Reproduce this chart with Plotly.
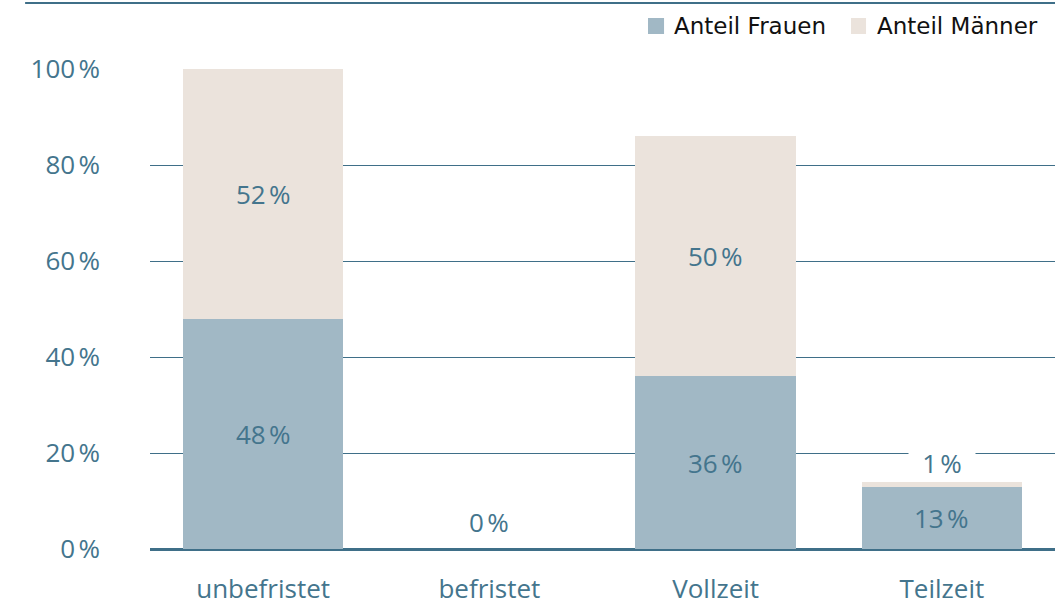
import plotly.graph_objects as go

categories = ["unbefristet", "befristet", "Vollzeit", "Teilzeit"]
frauen = [48, 0, 36, 13]
maenner = [52, 0, 50, 1]
series_names = ["Anteil Frauen", "Anteil Männer"]
y_ticks = [0, 20, 40, 60, 80, 100]
y_ticklabels = ["0\u202f%", "20\u202f%", "40\u202f%", "60\u202f%", "80\u202f%", "100\u202f%"]

col_f = "#a1b8c5"
col_m = "#ebe3dc"
txt = "#44758d"
line_col = "#3f6f88"
FONT = "Open Sans, sans-serif"
LFONT = "DejaVu Sans, sans-serif"

fig = go.Figure()
fig.add_trace(go.Bar(x=categories, y=frauen, name=series_names[0], marker_color=col_f,
                     marker_line_width=0, width=0.71))
fig.add_trace(go.Bar(x=categories, y=maenner, name=series_names[1], marker_color=col_m,
                     marker_line_width=0, width=0.71))

lab_font = dict(size=26, color=txt, family=FONT)
annotations = []
for c, f, m in zip(categories, frauen, maenner):
    if f + m == 0:
        annotations.append(dict(x=c, y=0, text="0\u202f%", showarrow=False, yshift=27,
                                font=lab_font))
        continue
    if f >= 5:
        annotations.append(dict(x=c, y=f / 2, text=f"{f}\u202f%", showarrow=False, font=lab_font))
    if m >= 5:
        annotations.append(dict(x=c, y=f + m / 2, text=f"{m}\u202f%", showarrow=False, font=lab_font))
    else:
        annotations.append(dict(x=c, y=f + m, text=f"{m}\u202f%", showarrow=False, yshift=19,
                                bgcolor="white", width=66, borderpad=0, font=lab_font))

# custom legend (squares + text)
legend_items = [(0.5503, 0.5680, 0.5768, col_f, series_names[0]),
                (0.7746, 0.7912, 0.8011, col_m, series_names[1])]
shapes = [dict(type="line", xref="paper", yref="paper", x0=-0.138, x1=1.0,
               y0=1.1375, y1=1.1375, line=dict(color=line_col, width=2))]
for x0, x1, xt, colr, name in legend_items:
    shapes.append(dict(type="rect", xref="paper", yref="paper", x0=x0, x1=x1,
                       y0=1.0729, y1=1.10625, fillcolor=colr, line=dict(width=0)))
    annotations.append(dict(xref="paper", yref="paper", x=xt, y=1.0896, xanchor="left",
                            yanchor="middle", text=name, showarrow=False,
                            font=dict(size=23, color="#111111", family=LFONT)))

fig.update_layout(
    width=1055, height=607,
    margin=dict(l=150, r=0, t=69, b=58),
    barmode="stack",
    plot_bgcolor="white", paper_bgcolor="white",
    font=dict(family=FONT, color=txt, size=26),
    showlegend=False,
    xaxis=dict(range=[-0.5, 3.5], showgrid=False, showline=False, zeroline=False,
               automargin=False,
               ticks="", ticklabelstandoff=22, tickfont=dict(size=26, color=txt, family=FONT)),
    yaxis=dict(range=[0, 100], tickvals=y_ticks, ticktext=y_ticklabels,
               automargin=False,
               showgrid=True, gridcolor=line_col, gridwidth=1,
               zeroline=True, zerolinecolor=line_col, zerolinewidth=2.5,
               showline=False, ticks="", ticklabelstandoff=49,
               tickfont=dict(size=26, color=txt, family=FONT)),
    annotations=annotations,
    shapes=shapes,
)

fig.write_html("out.html", config={"displayModeBar": False},
               post_script="document.body.style.margin='0';document.body.style.overflow='hidden';")
